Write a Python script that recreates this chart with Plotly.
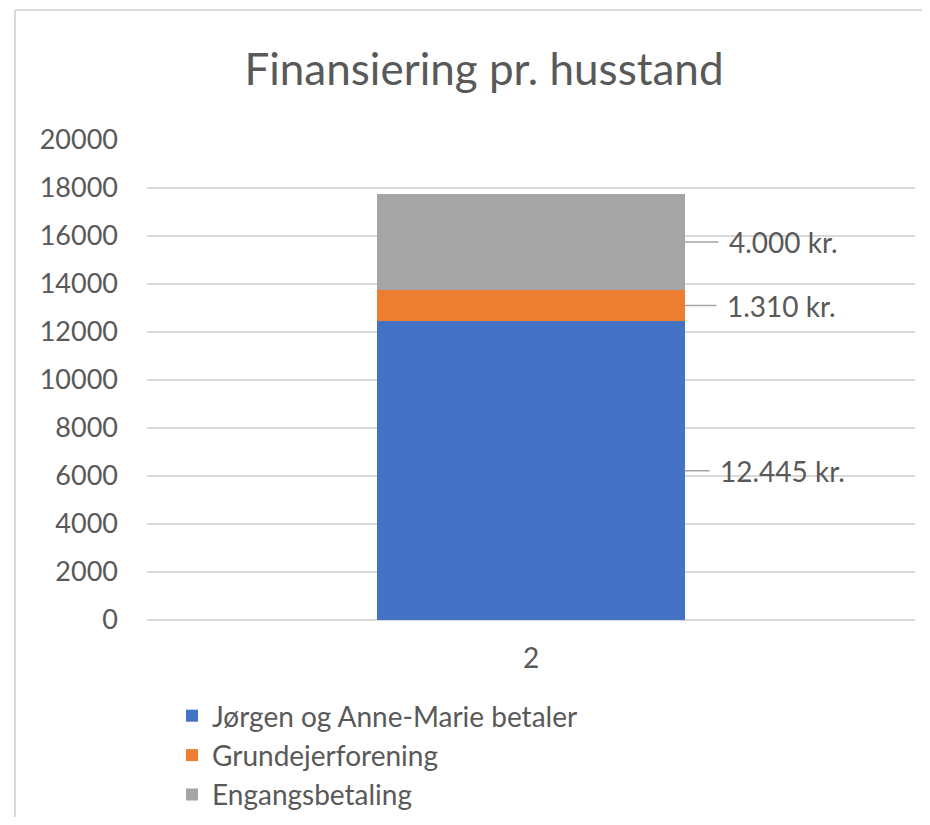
import plotly.graph_objects as go

categories = ["2"]
series_names = ["Jørgen og Anne-Marie betaler", "Grundejerforening", "Engangsbetaling"]
series_values = [[12445], [1310], [4000]]
label_texts = ["12.445 kr.", "1.310 kr.", "4.000 kr."]
colors = ["#4472C4", "#ED7D31", "#A5A5A5"]
y_ticks = [0, 2000, 4000, 6000, 8000, 10000, 12000, 14000, 16000, 18000, 20000]
y_tick_labels = [str(v) for v in y_ticks]

FONT = "Lato"
TXT = "#595959"

W, H = 914, 809
L, T, PW, PH = 139, 132, 768, 480

fig = go.Figure()
for i, (name, vals) in enumerate(zip(series_names, series_values)):
    fig.add_trace(go.Bar(
        x=categories, y=vals, name=name, marker_color=colors[i],
        marker_line_width=0, legendgroup=f"g{i}", width=0.4,
    ))

label_offsets = [33, 40, 42]
annotations = []
cum = 0
for i, vals in enumerate(series_values):
    v = vals[0]
    mid = cum + v / 2
    cum += v
    annotations.append(dict(
        x=0.2, y=mid, xref="x", yref="y", text=label_texts[i],
        showarrow=True, arrowhead=0, arrowwidth=1.5, arrowcolor="#A6A6A6",
        ax=label_offsets[i], ay=0, xanchor="left", yanchor="middle", startstandoff=8,
        font=dict(family=FONT, size=28, color=TXT),
    ))

bx = (7 - L) / PW
ty = (T + PH - 2) / PH

fig.update_layout(
    width=W, height=H,
    paper_bgcolor="white", plot_bgcolor="white",
    margin=dict(l=L, r=W - L - PW, t=T, b=H - T - PH, autoexpand=False),
    barmode="stack",
    title=dict(text="Finansiering pr. husstand", x=(484 - 8) / W, xref="container",
               y=1 - 62 / H, yref="container", xanchor="center", yanchor="middle",
               font=dict(family=FONT, size=44, color=TXT)),
    xaxis=dict(showgrid=False, showline=False, ticks="", type="category",
               tickfont=dict(family=FONT, size=28, color=TXT), ticklabelstandoff=19),
    yaxis=dict(range=[0, 20000], tickvals=y_ticks, ticktext=y_tick_labels,
               showgrid=True, gridcolor="#D9D9D9",
               gridwidth=1.5, zeroline=True, zerolinecolor="#D9D9D9", zerolinewidth=1.5,
               showline=False, ticks="", ticklabelstandoff=28,
               tickfont=dict(family=FONT, size=27, color=TXT)),
    legend=dict(x=164 / W, y=1 - 683 / H, xref="container", yref="container",
                xanchor="left", yanchor="top",
                traceorder="grouped", tracegroupgap=0,
                font=dict(family=FONT, size=28, color=TXT), bgcolor="rgba(0,0,0,0)"),
    annotations=annotations,
    shapes=[
        dict(type="line", xref="paper", yref="paper", x0=bx, x1=1.2,
             y0=ty, y1=ty, line=dict(color="#D9D9D9", width=2)),
        dict(type="line", xref="paper", yref="paper", x0=bx, x1=bx,
             y0=ty, y1=-0.5, line=dict(color="#D9D9D9", width=2)),
    ],
)

fig.write_html("out.html")
